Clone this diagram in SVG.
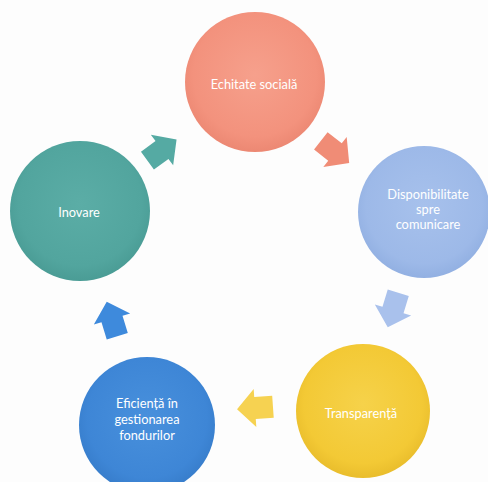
<svg xmlns="http://www.w3.org/2000/svg" width="488" height="482" viewBox="0 0 488 482">
<defs>
<style>
.lbl{font-family:Lato,"Open Sans","Liberation Sans",sans-serif;font-size:12.8px;fill:#ffffff;text-anchor:middle}
</style>
<radialGradient id="gRed" cx="50%" cy="45%" r="55%"><stop offset="0" stop-color="#F6A08C"/><stop offset="0.8" stop-color="#F3927D"/><stop offset="1" stop-color="#EC8873"/></radialGradient>
<radialGradient id="gLb" cx="50%" cy="45%" r="55%"><stop offset="0" stop-color="#A7C1EC"/><stop offset="0.8" stop-color="#9DB9E8"/><stop offset="1" stop-color="#92B0E2"/></radialGradient>
<radialGradient id="gYe" cx="50%" cy="45%" r="55%"><stop offset="0" stop-color="#F6D24A"/><stop offset="0.8" stop-color="#F3C935"/><stop offset="1" stop-color="#E9BD2C"/></radialGradient>
<radialGradient id="gBl" cx="50%" cy="45%" r="55%"><stop offset="0" stop-color="#4890DC"/><stop offset="0.8" stop-color="#3E86D6"/><stop offset="1" stop-color="#377DCB"/></radialGradient>
<radialGradient id="gTe" cx="50%" cy="45%" r="55%"><stop offset="0" stop-color="#5BADA6"/><stop offset="0.8" stop-color="#52A59E"/><stop offset="1" stop-color="#4A9C95"/></radialGradient>
<polygon id="arr" points="-18,-11 0,-11 0,-19 18,0 0,19 0,11 -18,11"/>
</defs>
<rect width="488" height="482" fill="#FDFDFD"/>
<g id="connectors">
<use href="#arr" fill="#F08C76" transform="translate(335,152) rotate(38)"/>
<use href="#arr" fill="#A9C1EC" transform="translate(393,310) rotate(107)"/>
<use href="#arr" fill="#F6D251" transform="translate(255,408) rotate(176)"/>
<use href="#arr" fill="#3E8ADC" transform="translate(112,319) rotate(253)"/>
<use href="#arr" fill="#55AAA3" transform="translate(162,150) rotate(-36)"/>
</g>
<g id="node-echitate">
<circle cx="255" cy="82" r="70" fill="url(#gRed)"/>
<text class="lbl" x="254" y="89">Echitate socială</text>
</g>
<g id="node-disponibilitate">
<circle cx="424" cy="212" r="66" fill="url(#gLb)"/>
<text class="lbl" x="428" y="199">Disponibilitate</text>
<text class="lbl" x="428" y="214">spre</text>
<text class="lbl" x="428" y="229">comunicare</text>
</g>
<g id="node-transparenta">
<circle cx="363" cy="411" r="67" fill="url(#gYe)"/>
<text class="lbl" x="361" y="418">Transparență</text>
</g>
<g id="node-eficienta">
<circle cx="147" cy="425" r="68" fill="url(#gBl)"/>
<text class="lbl" x="147" y="408">Eficiență în</text>
<text class="lbl" x="147" y="424">gestionarea</text>
<text class="lbl" x="147" y="440">fondurilor</text>
</g>
<g id="node-inovare">
<circle cx="80" cy="211" r="70" fill="url(#gTe)"/>
<text class="lbl" x="79" y="217">Inovare</text>
</g>
</svg>
